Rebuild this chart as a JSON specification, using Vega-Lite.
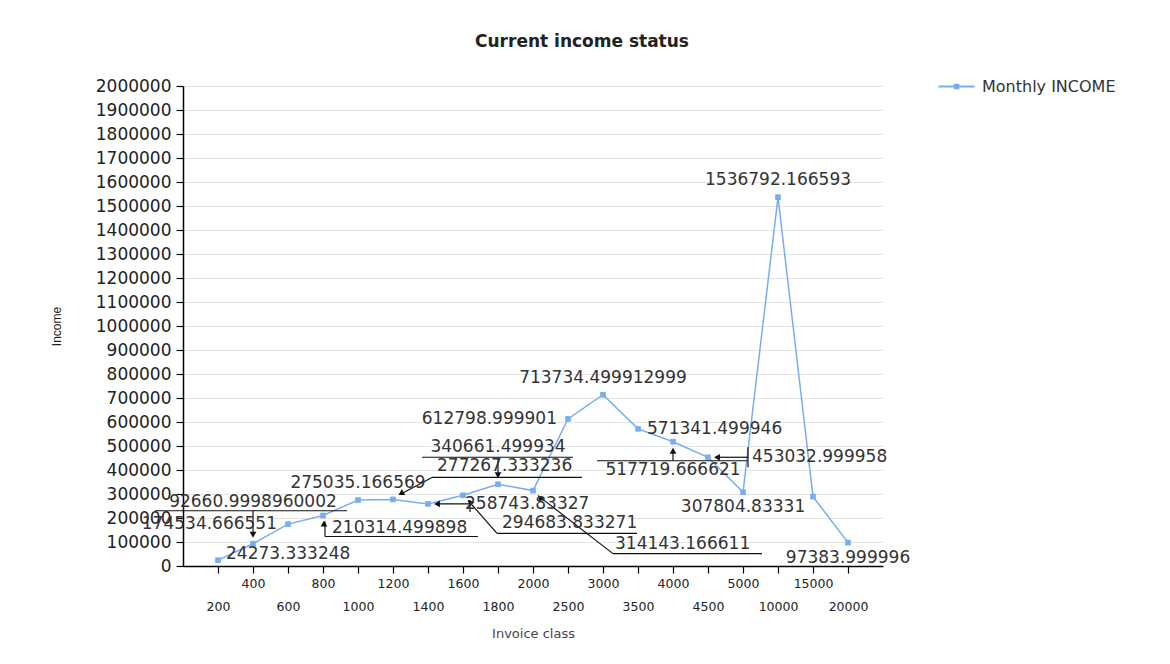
{
  "$schema": "https://vega.github.io/schema/vega-lite/v6.json",
  "width": 700,
  "height": 480,
  "padding": {"left": 50, "top": 33, "right": 5, "bottom": 5},
  "background": "white",
  "title": {
    "text": "Current income status",
    "font": "DejaVu Sans",
    "fontSize": 17,
    "fontWeight": "bold",
    "color": "#222222",
    "frame": "group",
    "anchor": "middle",
    "dx": 49,
    "offset": 16
  },
  "data": {
    "values": [
      {"cls": "200", "income": 24273.333248},
      {"cls": "400", "income": 92660.9998960002},
      {"cls": "600", "income": 174534.666551},
      {"cls": "800", "income": 210314.499898},
      {"cls": "1000", "income": 275035.166569},
      {"cls": "1200", "income": 277267.333236},
      {"cls": "1400", "income": 258743.83327},
      {"cls": "1600", "income": 294683.833271},
      {"cls": "1800", "income": 340661.499934},
      {"cls": "2000", "income": 314143.166611},
      {"cls": "2500", "income": 612798.999901},
      {"cls": "3000", "income": 713734.499912999},
      {"cls": "3500", "income": 571341.499946},
      {"cls": "4000", "income": 517719.666621},
      {"cls": "4500", "income": 453032.999958},
      {"cls": "5000", "income": 307804.83331},
      {"cls": "10000", "income": 1536792.166593},
      {"cls": "15000", "income": 289000},
      {"cls": "20000", "income": 97383.999996}
    ]
  },
  "encoding": {
    "x": {
      "field": "cls",
      "type": "ordinal",
      "sort": null,
      "scale": {"type": "point", "padding": 1},
      "axis": {
        "title": "Invoice class",
        "labelAngle": 0,
        "labelExpr": "indexof(['200','600','1000','1400','1800','2500','3500','4500','10000','20000'], datum.label) >= 0 ? ['', datum.label] : datum.label",
        "labelLineHeight": 23,
        "labelPadding": 4,
        "labelFont": "DejaVu Sans",
        "labelFontSize": 12.5,
        "labelColor": "#222222",
        "titleFont": "DejaVu Sans",
        "titleFontSize": 13,
        "titleFontWeight": "normal",
        "titleColor": "#4a3f55",
        "titlePadding": 15,
        "domainColor": "#000000",
        "domainWidth": 1.5,
        "tickColor": "#000000",
        "tickSize": 7,
        "tickWidth": 1.2,
        "grid": false
      }
    },
    "y": {
      "field": "income",
      "type": "quantitative",
      "scale": {"domain": [0, 2000000], "nice": false},
      "axis": {
        "title": "Income",
        "values": [0, 100000, 200000, 300000, 400000, 500000, 600000, 700000, 800000, 900000, 1000000, 1100000, 1200000, 1300000, 1400000, 1500000, 1600000, 1700000, 1800000, 1900000, 2000000],
        "format": "d",
        "labelFont": "DejaVu Sans",
        "labelFontSize": 17,
        "labelColor": "#222222",
        "labelPadding": 5,
        "titleFont": "Liberation Sans",
        "titleFontSize": 12,
        "titleFontWeight": "normal",
        "titleColor": "#222222",
        "titlePadding": 32,
        "domainColor": "#000000",
        "domainWidth": 1.5,
        "tickColor": "#000000",
        "tickSize": 7,
        "tickWidth": 1.2,
        "gridColor": "#e4e4e4",
        "gridWidth": 1
      }
    }
  },
  "layer": [
    {
      "mark": {
        "type": "line",
        "strokeWidth": 1.5,
        "point": {"shape": "square", "size": 32, "filled": true, "color": "#3a84e6", "opacity": 1}
      },
      "encoding": {
        "color": {
          "datum": "Monthly INCOME",
          "type": "nominal",
          "scale": {"range": ["#78aef0"]},
          "legend": {
            "title": null,
            "orient": "none",
            "legendX": 754,
            "legendY": -19,
            "labelFont": "DejaVu Sans",
            "labelFontSize": 16,
            "labelColor": "#333333",
            "labelOffset": 6,
            "symbolType": "M-1,0L1,0M-0.1,-0.1L0.1,-0.1L0.1,0.1L-0.1,0.1Z",
            "symbolSize": 1300,
            "symbolStrokeWidth": 2,
            "symbolFillColor": "#3a84e6",
            "symbolStrokeColor": "#5a9cf0",
            "padding": 0
          }
        }
      }
    },

    {"transform": [{"filter": "datum.cls === '400'"}], "mark": {"type": "rule", "color": "#111111", "strokeWidth": 1.2, "xOffset": -98, "x2Offset": 94, "yOffset": -33, "y2Offset": -33}, "encoding": {"x2": {"field": "cls"}, "y2": {"field": "income"}}},
    {"transform": [{"filter": "datum.cls === '400'"}], "mark": {"type": "rule", "color": "#111111", "strokeWidth": 1.2, "xOffset": 0, "x2Offset": 0, "yOffset": -33, "y2Offset": -8}, "encoding": {"x2": {"field": "cls"}, "y2": {"field": "income"}}},
    {"transform": [{"filter": "datum.cls === '800'"}], "mark": {"type": "rule", "color": "#111111", "strokeWidth": 1.2, "xOffset": 2, "x2Offset": 2, "yOffset": 6, "y2Offset": 21}, "encoding": {"x2": {"field": "cls"}, "y2": {"field": "income"}}},
    {"transform": [{"filter": "datum.cls === '800'"}], "mark": {"type": "rule", "color": "#111111", "strokeWidth": 1.2, "xOffset": 2, "x2Offset": 155, "yOffset": 21, "y2Offset": 21}, "encoding": {"x2": {"field": "cls"}, "y2": {"field": "income"}}},
    {"transform": [{"filter": "datum.cls === '1200'"}], "mark": {"type": "rule", "color": "#111111", "strokeWidth": 1.2, "xOffset": 7, "x2Offset": 39, "yOffset": -5, "y2Offset": -22}, "encoding": {"x2": {"field": "cls"}, "y2": {"field": "income"}}},
    {"transform": [{"filter": "datum.cls === '1200'"}], "mark": {"type": "rule", "color": "#111111", "strokeWidth": 1.2, "xOffset": 39, "x2Offset": 189, "yOffset": -22, "y2Offset": -22}, "encoding": {"x2": {"field": "cls"}, "y2": {"field": "income"}}},
    {"transform": [{"filter": "datum.cls === '1800'"}], "mark": {"type": "rule", "color": "#111111", "strokeWidth": 1.2, "xOffset": -76, "x2Offset": 75, "yOffset": -27, "y2Offset": -27}, "encoding": {"x2": {"field": "cls"}, "y2": {"field": "income"}}},
    {"transform": [{"filter": "datum.cls === '1800'"}], "mark": {"type": "rule", "color": "#111111", "strokeWidth": 1.2, "xOffset": 0, "x2Offset": 0, "yOffset": -27, "y2Offset": -8}, "encoding": {"x2": {"field": "cls"}, "y2": {"field": "income"}}},
    {"transform": [{"filter": "datum.cls === '1400'"}], "mark": {"type": "rule", "color": "#111111", "strokeWidth": 1.2, "xOffset": 8, "x2Offset": 42, "yOffset": 0, "y2Offset": 0}, "encoding": {"x2": {"field": "cls"}, "y2": {"field": "income"}}},
    {"transform": [{"filter": "datum.cls === '1400'"}], "mark": {"type": "rule", "color": "#111111", "strokeWidth": 1.2, "xOffset": 42, "x2Offset": 42, "yOffset": -4, "y2Offset": 8}, "encoding": {"x2": {"field": "cls"}, "y2": {"field": "income"}}},
    {"transform": [{"filter": "datum.cls === '1600'"}], "mark": {"type": "rule", "color": "#111111", "strokeWidth": 1.2, "xOffset": 5, "x2Offset": 34, "yOffset": 5, "y2Offset": 38}, "encoding": {"x2": {"field": "cls"}, "y2": {"field": "income"}}},
    {"transform": [{"filter": "datum.cls === '1600'"}], "mark": {"type": "rule", "color": "#111111", "strokeWidth": 1.2, "xOffset": 34, "x2Offset": 174, "yOffset": 38, "y2Offset": 38}, "encoding": {"x2": {"field": "cls"}, "y2": {"field": "income"}}},
    {"transform": [{"filter": "datum.cls === '2000'"}], "mark": {"type": "rule", "color": "#111111", "strokeWidth": 1.2, "xOffset": 5, "x2Offset": 80, "yOffset": 5, "y2Offset": 63}, "encoding": {"x2": {"field": "cls"}, "y2": {"field": "income"}}},
    {"transform": [{"filter": "datum.cls === '2000'"}], "mark": {"type": "rule", "color": "#111111", "strokeWidth": 1.2, "xOffset": 80, "x2Offset": 229, "yOffset": 63, "y2Offset": 63}, "encoding": {"x2": {"field": "cls"}, "y2": {"field": "income"}}},
    {"transform": [{"filter": "datum.cls === '4000'"}], "mark": {"type": "rule", "color": "#111111", "strokeWidth": 1.2, "xOffset": -76, "x2Offset": 74, "yOffset": 19, "y2Offset": 19}, "encoding": {"x2": {"field": "cls"}, "y2": {"field": "income"}}},
    {"transform": [{"filter": "datum.cls === '4000'"}], "mark": {"type": "rule", "color": "#111111", "strokeWidth": 1.2, "xOffset": 0, "x2Offset": 0, "yOffset": 19, "y2Offset": 8}, "encoding": {"x2": {"field": "cls"}, "y2": {"field": "income"}}},
    {"transform": [{"filter": "datum.cls === '4500'"}], "mark": {"type": "rule", "color": "#111111", "strokeWidth": 1.2, "xOffset": 8, "x2Offset": 40, "yOffset": 0, "y2Offset": 0}, "encoding": {"x2": {"field": "cls"}, "y2": {"field": "income"}}},
    {"transform": [{"filter": "datum.cls === '4500'"}], "mark": {"type": "rule", "color": "#111111", "strokeWidth": 1.2, "xOffset": 40, "x2Offset": 40, "yOffset": -10, "y2Offset": 10}, "encoding": {"x2": {"field": "cls"}, "y2": {"field": "income"}}},

    {"transform": [{"filter": "indexof(['400','1800'], datum.cls) >= 0"}], "mark": {"type": "point", "shape": "triangle-up", "filled": true, "color": "#111111", "opacity": 1, "size": 45, "angle": 180, "yOffset": -9}, "encoding": {}},
    {"transform": [{"filter": "datum.cls === '800'"}], "mark": {"type": "point", "shape": "triangle-up", "filled": true, "color": "#111111", "opacity": 1, "size": 45, "angle": 0, "xOffset": 1, "yOffset": 8}, "encoding": {}},
    {"transform": [{"filter": "datum.cls === '4000'"}], "mark": {"type": "point", "shape": "triangle-up", "filled": true, "color": "#111111", "opacity": 1, "size": 45, "angle": 0, "yOffset": 9}, "encoding": {}},
    {"transform": [{"filter": "indexof(['1400','4500'], datum.cls) >= 0"}], "mark": {"type": "point", "shape": "triangle-up", "filled": true, "color": "#111111", "opacity": 1, "size": 45, "angle": 270, "xOffset": 9}, "encoding": {}},
    {"transform": [{"filter": "datum.cls === '1200'"}], "mark": {"type": "point", "shape": "triangle-up", "filled": true, "color": "#111111", "opacity": 1, "size": 45, "angle": 240, "xOffset": 8, "yOffset": -6}, "encoding": {}},
    {"transform": [{"filter": "indexof(['1600','2000'], datum.cls) >= 0"}], "mark": {"type": "point", "shape": "triangle-up", "filled": true, "color": "#111111", "opacity": 1, "size": 45, "angle": 315, "xOffset": 7, "yOffset": 7}, "encoding": {}},

    {
      "transform": [{"filter": "indexof(['1000','3000','10000'], datum.cls) >= 0"}],
      "mark": {"type": "text", "align": "center", "baseline": "middle", "dy": -17, "font": "DejaVu Sans", "fontSize": 17, "color": "#333333"},
      "encoding": {"text": {"field": "income", "type": "nominal"}}
    },
    {
      "transform": [{"filter": "datum.cls === '400'"}],
      "mark": {"type": "text", "align": "center", "baseline": "middle", "dy": -42, "font": "DejaVu Sans", "fontSize": 17, "color": "#333333"},
      "encoding": {"text": {"field": "income", "type": "nominal"}}
    },
    {
      "transform": [{"filter": "datum.cls === '1800'"}],
      "mark": {"type": "text", "align": "center", "baseline": "middle", "dy": -37, "font": "DejaVu Sans", "fontSize": 17, "color": "#333333"},
      "encoding": {"text": {"field": "income", "type": "nominal"}}
    },
    {
      "transform": [{"filter": "indexof(['5000','20000'], datum.cls) >= 0"}],
      "mark": {"type": "text", "align": "center", "baseline": "middle", "dy": 15, "font": "DejaVu Sans", "fontSize": 17, "color": "#333333"},
      "encoding": {"text": {"field": "income", "type": "nominal"}}
    },
    {
      "transform": [{"filter": "datum.cls === '4000'"}],
      "mark": {"type": "text", "align": "center", "baseline": "middle", "dy": 28, "font": "DejaVu Sans", "fontSize": 17, "color": "#333333"},
      "encoding": {"text": {"field": "income", "type": "nominal"}}
    },
    {
      "transform": [{"filter": "datum.cls === '200'"}],
      "mark": {"type": "text", "align": "left", "baseline": "middle", "dx": 8, "dy": -6, "font": "DejaVu Sans", "fontSize": 17, "color": "#333333"},
      "encoding": {"text": {"field": "income", "type": "nominal"}}
    },
    {
      "transform": [{"filter": "datum.cls === '3500'"}],
      "mark": {"type": "text", "align": "left", "baseline": "middle", "dx": 9, "dy": 0, "font": "DejaVu Sans", "fontSize": 17, "color": "#333333"},
      "encoding": {"text": {"field": "income", "type": "nominal"}}
    },
    {
      "transform": [{"filter": "datum.cls === '800'"}],
      "mark": {"type": "text", "align": "left", "baseline": "middle", "dx": 9, "dy": 12, "font": "DejaVu Sans", "fontSize": 17, "color": "#333333"},
      "encoding": {"text": {"field": "income", "type": "nominal"}}
    },
    {
      "transform": [{"filter": "indexof(['600','2500'], datum.cls) >= 0"}],
      "mark": {"type": "text", "align": "right", "baseline": "middle", "dx": -11, "dy": 0, "font": "DejaVu Sans", "fontSize": 17, "color": "#333333"},
      "encoding": {"text": {"field": "income", "type": "nominal"}}
    },
    {
      "transform": [{"filter": "datum.cls === '1400'"}],
      "mark": {"type": "text", "align": "left", "baseline": "middle", "dx": 37, "dy": 0, "font": "DejaVu Sans", "fontSize": 17, "color": "#333333"},
      "encoding": {"text": {"field": "income", "type": "nominal"}}
    },
    {
      "transform": [{"filter": "datum.cls === '4500'"}],
      "mark": {"type": "text", "align": "left", "baseline": "middle", "dx": 44, "dy": 0, "font": "DejaVu Sans", "fontSize": 17, "color": "#333333"},
      "encoding": {"text": {"field": "income", "type": "nominal"}}
    },
    {
      "transform": [{"filter": "datum.cls === '1600'"}],
      "mark": {"type": "text", "align": "left", "baseline": "middle", "dx": 39, "dy": 28, "font": "DejaVu Sans", "fontSize": 17, "color": "#333333"},
      "encoding": {"text": {"field": "income", "type": "nominal"}}
    },
    {
      "transform": [{"filter": "datum.cls === '1200'"}],
      "mark": {"type": "text", "align": "left", "baseline": "middle", "dx": 44, "dy": -33, "font": "DejaVu Sans", "fontSize": 17, "color": "#333333"},
      "encoding": {"text": {"field": "income", "type": "nominal"}}
    },
    {
      "transform": [{"filter": "datum.cls === '2000'"}],
      "mark": {"type": "text", "align": "left", "baseline": "middle", "dx": 82, "dy": 53, "font": "DejaVu Sans", "fontSize": 17, "color": "#333333"},
      "encoding": {"text": {"field": "income", "type": "nominal"}}
    }
  ],
  "config": {
    "view": {"stroke": null},
    "axis": {"labelFontWeight": "normal"}
  }
}
